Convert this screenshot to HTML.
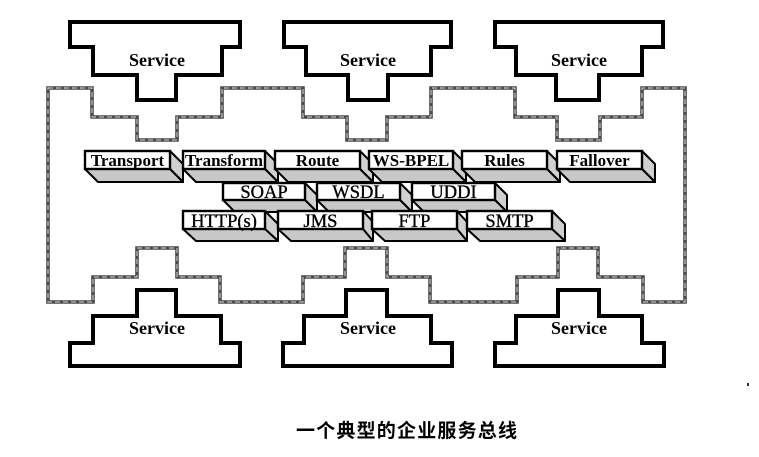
<!DOCTYPE html>
<html>
<head>
<meta charset="utf-8">
<style>
  html,body{margin:0;padding:0;background:#fff;}
  body{width:759px;height:457px;overflow:hidden;}
  svg{display:block;}
  .svc{fill:#fff;stroke:#000;stroke-width:4;stroke-linejoin:miter;}
  .st{font-family:"Liberation Serif",serif;font-weight:bold;font-size:18px;text-anchor:middle;fill:#000;}
  .bt{font-family:"Liberation Serif",serif;font-weight:bold;font-size:17px;text-anchor:middle;fill:#000;}
  .rt{font-family:"Liberation Serif",serif;font-size:18.5px;text-anchor:middle;fill:#000;stroke:#000;stroke-width:0.35;}
  .fr{fill:#fff;stroke:#000;stroke-width:2.4;}
  .bo{fill:#c8c8c8;stroke:#000;stroke-width:2;stroke-linejoin:round;}
  .sd{fill:#d0d0d0;stroke:#000;stroke-width:2;stroke-linejoin:round;}
</style>
</head>
<body>
<svg width="759" height="457" viewBox="0 0 759 457" xmlns="http://www.w3.org/2000/svg">
  <!-- Bus outline -->
  <path d="M48,88 H92 V117 H137 V140 H177 V117 H222 V88 H303 V117 H347 V140 H387 V117 H431 V88 H515 V117 H557 V140 H600 V117 H642 V88 H685 V302 H643 V277 H598 V248 H558 V277 H517 V302 H430 V277 H387 V248 H345 V277 H303 V302 H220 V277 H177 V248 H137 V277 H93 V302 H48 Z"
        fill="#fff" stroke="#4a4a4a" stroke-width="3.6"/>
  <path d="M48,88 H92 V117 H137 V140 H177 V117 H222 V88 H303 V117 H347 V140 H387 V117 H431 V88 H515 V117 H557 V140 H600 V117 H642 V88 H685 V302 H643 V277 H598 V248 H558 V277 H517 V302 H430 V277 H387 V248 H345 V277 H303 V302 H220 V277 H177 V248 H137 V277 H93 V302 H48 Z"
        fill="none" stroke="#d8d8d8" stroke-width="1" stroke-dasharray="5 3"/>

  <!-- Top services -->
  <path class="svc" d="M70,22 H240 V47 H222 V75 H176 V100 H137 V75 H93 V47 H70 Z"/>
  <path class="svc" d="M284,22 H451 V47 H431 V75 H388 V100 H348 V75 H306 V47 H284 Z"/>
  <path class="svc" d="M495,22 H663 V47 H642 V75 H599 V100 H556 V75 H516 V47 H495 Z"/>
  <text class="st" x="157" y="66">Service</text>
  <text class="st" x="368" y="66">Service</text>
  <text class="st" x="579" y="66">Service</text>

  <!-- Bottom services -->
  <path class="svc" d="M137,290 H176 V316 H221 V343 H240 V366 H70 V343 H93 V316 H137 Z"/>
  <path class="svc" d="M346,290 H387 V316 H431 V343 H452 V366 H283 V343 H304 V316 H346 Z"/>
  <path class="svc" d="M558,290 H599 V316 H642 V343 H664 V366 H495 V343 H516 V316 H558 Z"/>
  <text class="st" x="157" y="334">Service</text>
  <text class="st" x="368" y="334">Service</text>
  <text class="st" x="579" y="334">Service</text>

  <!-- Row 1 boxes: y 151-169 -->
  <g>
    <polygon class="sd" points="170,151 183,164 183,182 170,169"/>
    <polygon class="bo" points="85,169 170,169 183,182 98,182"/>
    <rect class="fr" x="85" y="151" width="85" height="18"/>
    <text class="bt" x="127.5" y="166">Transport</text>

    <polygon class="sd" points="265,151 278,164 278,182 265,169"/>
    <polygon class="bo" points="183,169 265,169 278,182 196,182"/>
    <rect class="fr" x="183" y="151" width="82" height="18"/>
    <text class="bt" x="224" y="166">Transform</text>

    <polygon class="sd" points="360,151 373,164 373,182 360,169"/>
    <polygon class="bo" points="275,169 360,169 373,182 288,182"/>
    <rect class="fr" x="275" y="151" width="85" height="18"/>
    <text class="bt" x="317.5" y="166">Route</text>

    <polygon class="sd" points="453,151 466,164 466,182 453,169"/>
    <polygon class="bo" points="369,169 453,169 466,182 382,182"/>
    <rect class="fr" x="369" y="151" width="84" height="18"/>
    <text class="bt" x="411" y="166">WS-BPEL</text>

    <polygon class="sd" points="547,151 560,164 560,182 547,169"/>
    <polygon class="bo" points="462,169 547,169 560,182 475,182"/>
    <rect class="fr" x="462" y="151" width="85" height="18"/>
    <text class="bt" x="504.5" y="166">Rules</text>

    <polygon class="sd" points="642,151 655,164 655,182 642,169"/>
    <polygon class="bo" points="557,169 642,169 655,182 570,182"/>
    <rect class="fr" x="557" y="151" width="85" height="18"/>
    <text class="bt" x="599.5" y="166">Fallover</text>
  </g>

  <!-- Row 2 boxes: y 183-200 -->
  <g>
    <polygon class="sd" points="305,183 317,195 317,212 305,200"/>
    <polygon class="bo" points="223,200 305,200 317,212 235,212"/>
    <rect class="fr" x="223" y="183" width="82" height="17"/>
    <text class="rt" x="264" y="198">SOAP</text>

    <polygon class="sd" points="400,183 412,195 412,212 400,200"/>
    <polygon class="bo" points="317,200 400,200 412,212 329,212"/>
    <rect class="fr" x="317" y="183" width="83" height="17"/>
    <text class="rt" x="358.5" y="198">WSDL</text>

    <polygon class="sd" points="495,183 507,195 507,212 495,200"/>
    <polygon class="bo" points="412,200 495,200 507,212 424,212"/>
    <rect class="fr" x="412" y="183" width="83" height="17"/>
    <text class="rt" x="453.5" y="198">UDDI</text>
  </g>

  <!-- Row 3 boxes: y 211-229 -->
  <g>
    <polygon class="sd" points="265,211 278,224 278,241 265,229"/>
    <polygon class="bo" points="183,229 265,229 278,241 196,241"/>
    <rect class="fr" x="183" y="211" width="82" height="18"/>
    <text class="rt" x="224" y="227">HTTP(s)</text>

    <polygon class="sd" points="363,211 373,222 373,241 363,229"/>
    <polygon class="bo" points="278,229 363,229 373,241 291,241"/>
    <rect class="fr" x="278" y="211" width="85" height="18"/>
    <text class="rt" x="320.5" y="227">JMS</text>

    <polygon class="sd" points="457,211 467,222 467,241 457,229"/>
    <polygon class="bo" points="372,229 457,229 467,241 385,241"/>
    <rect class="fr" x="372" y="211" width="85" height="18"/>
    <text class="rt" x="414.5" y="227">FTP</text>

    <polygon class="sd" points="552,211 565,224 565,241 552,229"/>
    <polygon class="bo" points="467,229 552,229 565,241 480,241"/>
    <rect class="fr" x="467" y="211" width="85" height="18"/>
    <text class="rt" x="509.5" y="227">SMTP</text>
  </g>

  <!-- stray mark -->
  <rect x="747" y="383" width="2" height="3" fill="#333"/>

  <!-- Caption -->
  <text x="296" y="437" style="font-family:'Liberation Sans','Noto Sans CJK SC',sans-serif;font-weight:bold;font-size:19px;letter-spacing:1.2px;fill:#000;">一个典型的企业服务总线</text>
</svg>
</body>
</html>
